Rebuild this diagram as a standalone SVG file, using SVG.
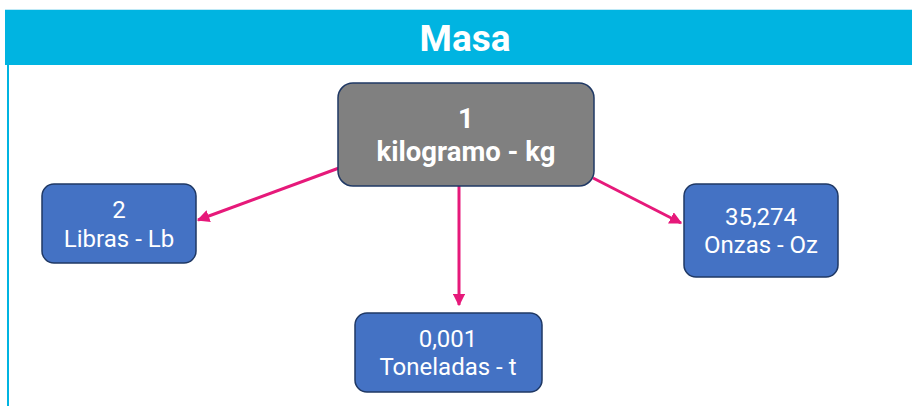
<svg xmlns="http://www.w3.org/2000/svg" width="912" height="406" viewBox="0 0 912 406">
<defs>
<style>
.box{stroke:#1f3864;stroke-width:1.5}
.blue{fill:#4472c4}
.t{font-family:Roboto,"Open Sans","Liberation Sans",sans-serif;fill:#fff;text-anchor:middle}
.n{font-size:24px}
.b{font-size:27.5px;font-weight:bold}
.c{stroke:#e6197a;stroke-width:3;fill:none;marker-end:url(#ah)}
</style>
<marker id="ah" viewBox="0 0 10 10" refX="9" refY="5" markerWidth="4.2" markerHeight="4.2" orient="auto" markerUnits="strokeWidth">
<path d="M0,0 L10,5 L0,10 z" fill="#e6197a"/>
</marker>
</defs>
<rect width="912" height="406" fill="#fff"/>
<g id="header">
<line x1="5" y1="9.5" x2="912" y2="9.5" stroke="#bfe9f6" stroke-width="1"/>
<rect x="5" y="10" width="907" height="55" fill="#00b4e1"/>
<line x1="8" y1="65" x2="8" y2="406" stroke="#00b4e1" stroke-width="2"/>
<text class="t" x="465" y="51" font-size="37" font-weight="bold">Masa</text>
</g>
<g id="connectors">
<line class="c" x1="339" y1="168" x2="198" y2="220"/>
<line class="c" x1="459" y1="186" x2="459" y2="305"/>
<line class="c" x1="593" y1="178" x2="681" y2="223"/>
</g>
<g id="kg">
<rect class="box" x="338" y="83" width="256" height="103" rx="15" fill="#808080"/>
<text class="t b" x="466" y="128">1</text>
<text class="t b" x="466" y="161">kilogramo - kg</text>
</g>
<g id="lb">
<rect class="box blue" x="42" y="184" width="154" height="79" rx="12"/>
<text class="t n" x="119" y="218">2</text>
<text class="t n" x="119" y="247">Libras - Lb</text>
</g>
<g id="oz">
<rect class="box blue" x="684" y="184" width="154" height="93" rx="12"/>
<text class="t n" x="761" y="225">35,274</text>
<text class="t n" x="761" y="253">Onzas - Oz</text>
</g>
<g id="t">
<rect class="box blue" x="355" y="313" width="187" height="79" rx="12"/>
<text class="t n" x="448" y="347">0,001</text>
<text class="t n" x="448" y="375">Toneladas - t</text>
</g>
</svg>
